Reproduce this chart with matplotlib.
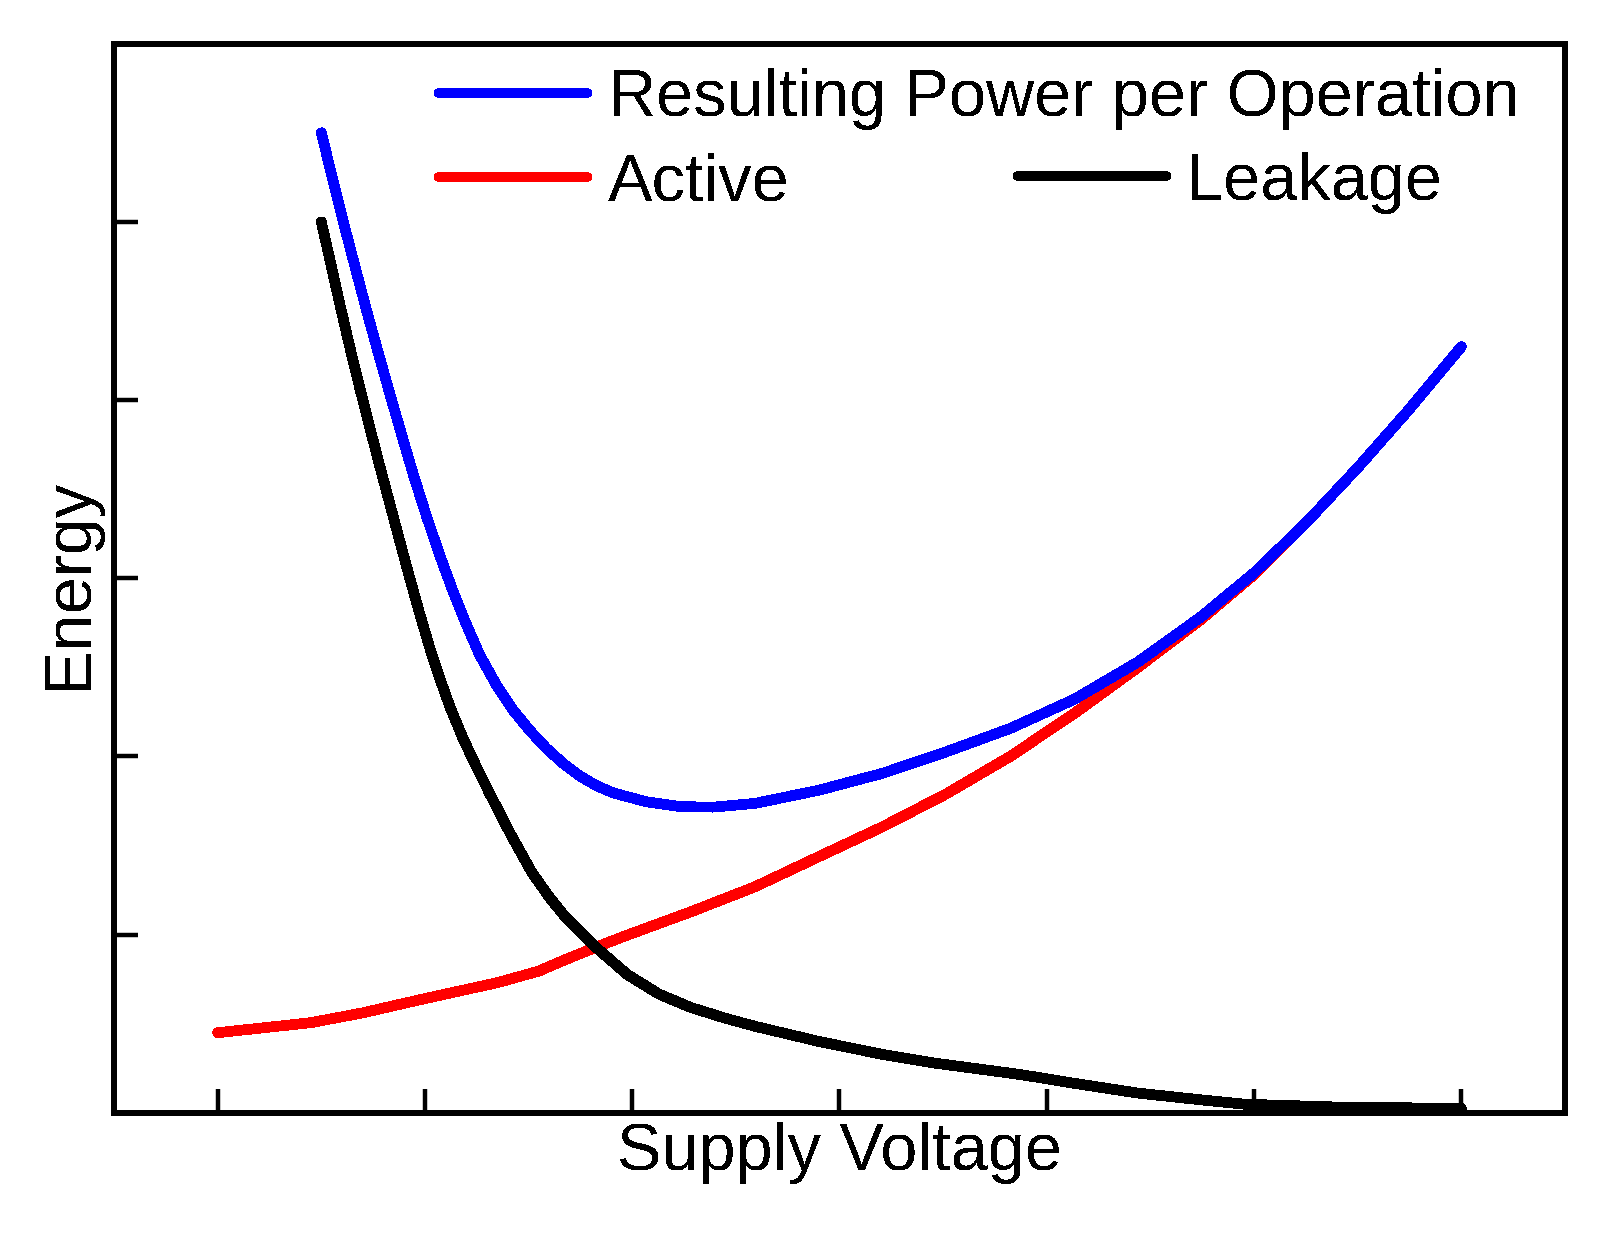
import matplotlib
matplotlib.use("Agg")
import matplotlib.pyplot as plt

# ---- data ----
power_x = [0.50, 0.557, 0.613, 0.669, 0.725, 0.782, 0.838, 0.894, 0.943, 1.007, 1.071, 1.136,
           1.200, 1.264, 1.345, 1.425, 1.506, 1.586, 1.667, 1.747, 1.828, 1.908, 2.069, 2.230,
           2.39, 2.592, 2.90, 3.208, 3.516, 3.824, 4.132, 4.44, 4.746, 5.0, 5.25, 5.5, 5.75, 6.0]
power_y = [5.50, 5.23, 4.97, 4.72, 4.475, 4.235, 4.005, 3.78, 3.585, 3.35, 3.13, 2.925,
           2.74, 2.57, 2.40, 2.26, 2.145, 2.045, 1.96, 1.89, 1.835, 1.795, 1.745, 1.718,
           1.715, 1.736, 1.81, 1.905, 2.026, 2.157, 2.32, 2.53, 2.785, 3.03, 3.31, 3.62, 3.95, 4.30]

active_x = [0.0, 0.448, 0.698, 0.998, 1.35, 1.55, 1.669, 1.823, 1.977, 2.284, 2.592, 2.90,
            3.208, 3.516, 3.824, 4.132, 4.44, 4.746, 5.0, 5.25, 5.5, 5.75, 6.0]
active_y = [0.449, 0.505, 0.56, 0.64, 0.73, 0.795, 0.855, 0.928, 0.997, 1.128, 1.268, 1.437,
            1.605, 1.79, 2.00, 2.24, 2.50, 2.77, 3.02, 3.31, 3.62, 3.95, 4.30]

leak_x = [0.50, 0.541, 0.589, 0.637, 0.685, 0.733, 0.782, 0.830, 0.878, 0.927, 0.975, 1.023,
          1.071, 1.120, 1.184, 1.249, 1.313, 1.377, 1.417, 1.515, 1.60, 1.669, 1.823, 1.977,
          2.13, 2.284, 2.45, 2.592, 2.90, 3.208, 3.45, 3.824, 3.95, 4.132, 4.44, 4.746,
          4.95, 5.45, 6.0]
leak_y = [5.00, 4.79, 4.54, 4.30, 4.07, 3.85, 3.63, 3.42, 3.21, 3.00, 2.80, 2.61,
          2.44, 2.28, 2.10, 1.94, 1.79, 1.645, 1.555, 1.35, 1.21, 1.11, 0.93, 0.775,
          0.665, 0.59, 0.53, 0.485, 0.40, 0.327, 0.28, 0.222, 0.20, 0.165, 0.11, 0.072,
          0.048, 0.03, 0.025]

x_ticks = [0, 1, 2, 3, 4, 5, 6]
y_ticks = [1, 2, 3, 4, 5]
labels = ["Resulting Power per Operation", "Active", "Leakage"]

# ---- figure ----
plt.rcParams['font.family'] = ['Liberation Sans', 'DejaVu Sans']
plt.rcParams['text.antialiased'] = False
plt.rcParams['lines.antialiased'] = False
FS = 48
LW = 7.0
LEG_LW = 5.8

fig = plt.figure(figsize=(16.24, 12.34), dpi=100)
ax = fig.add_axes([114/1624, 1 - 1112.7/1234, (1565-114)/1624, (1112.7-43.7)/1234])

lp, = ax.plot(power_x, power_y, color='#0000ff', lw=LW, solid_capstyle='round',
              solid_joinstyle='round', zorder=3)
la, = ax.plot(active_x, active_y, color='#ff0000', lw=LW, solid_capstyle='round',
              solid_joinstyle='round', zorder=2)
ll, = ax.plot(leak_x, leak_y, color='#000000', lw=LW, solid_capstyle='round',
              solid_joinstyle='round', zorder=2)

ax.set_xlim(-0.5, 6.5)
ax.set_ylim(0, 6)
ax.set_xticks(x_ticks)
ax.set_yticks(y_ticks)
ax.tick_params(direction='in', length=17, width=3.2, labelbottom=False, labelleft=False,
               color='black')
for s in ax.spines.values():
    s.set_linewidth(3.2)
    s.set_color('black')
    s.set_antialiased(False)

ax.set_xlabel("Supply Voltage", fontsize=FS)
ax.set_ylabel("Energy", fontsize=FS)
ax.xaxis.set_label_coords(0.5, -0.009)
ax.yaxis.set_label_coords(-0.009, 0.495)

common = dict(frameon=False, fontsize=FS, handlelength=2.25, handletextpad=0.3,
              borderpad=0, borderaxespad=0, labelspacing=0.335, loc='upper left')
leg1 = ax.legend([lp, la], labels[:2], bbox_to_anchor=(0.2235, 0.977), **common)
ax.add_artist(leg1)
leg2 = ax.legend([ll], labels[2:], bbox_to_anchor=(0.6220, 0.899), **common)
for lg in (leg1, leg2):
    for h in lg.get_lines():
        h.set_linewidth(LEG_LW)

fig.savefig("out.png", dpi=100, facecolor='white')
